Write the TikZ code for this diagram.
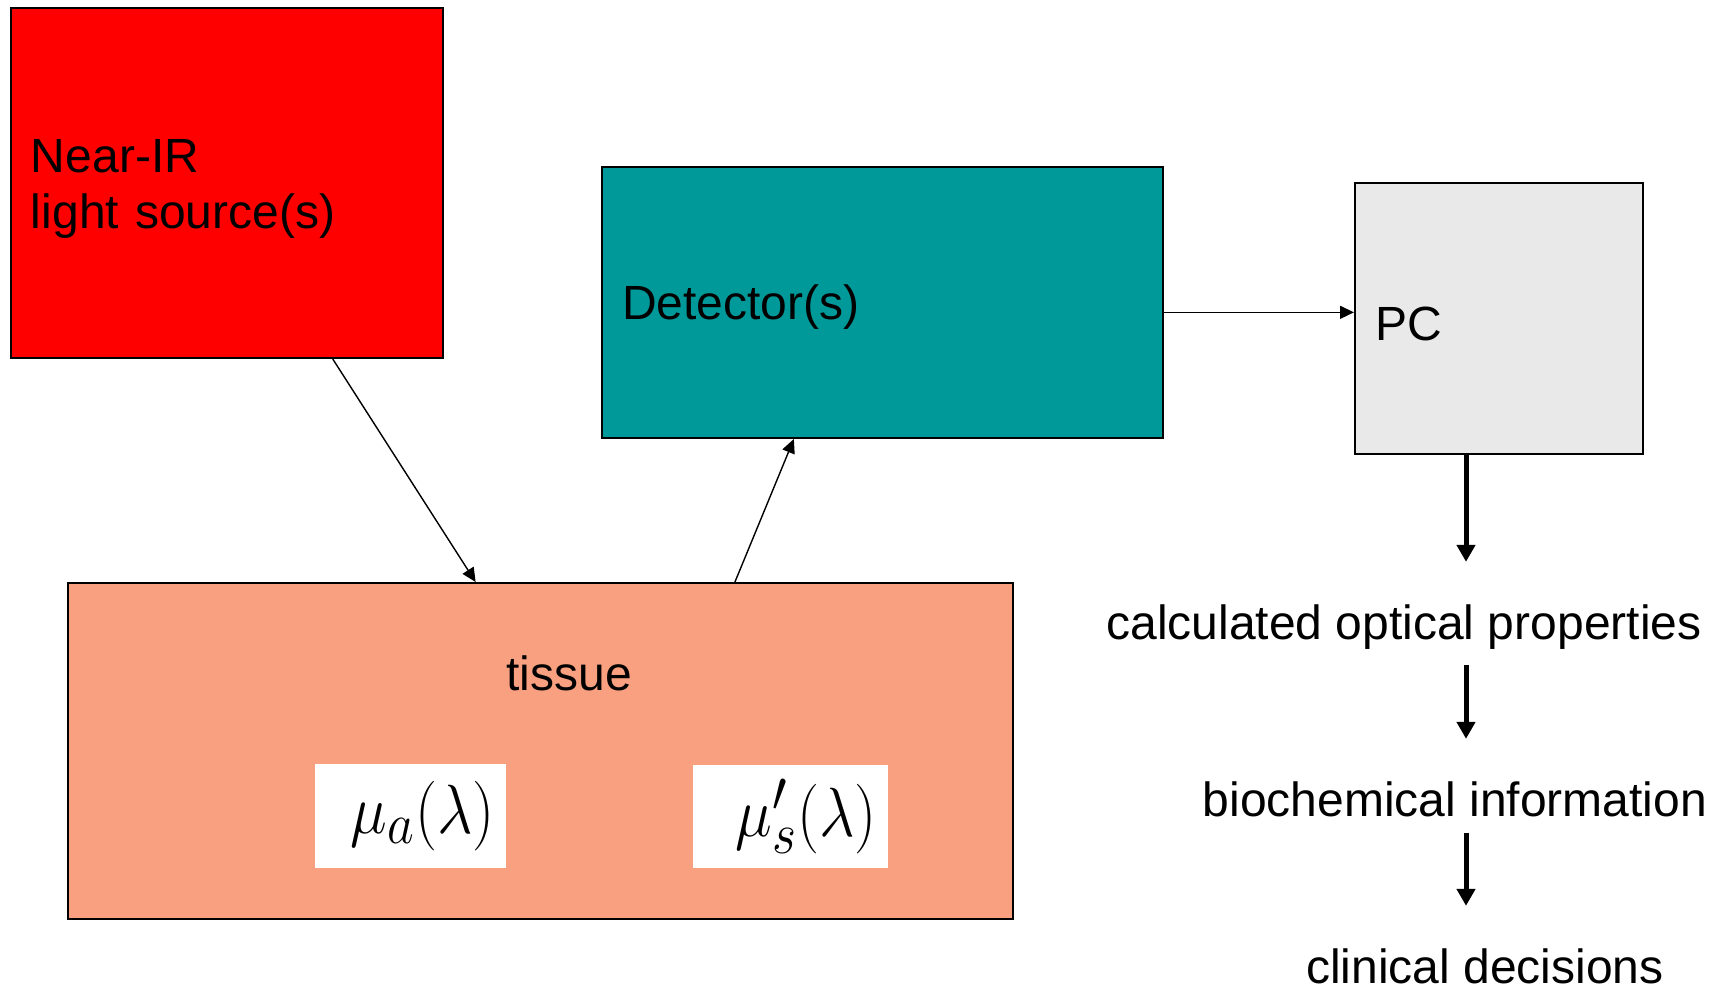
\documentclass[tikz,border=0pt]{standalone}
\usepackage{graphicx}
\usepackage[no-math]{fontspec}
\setmainfont{Liberation Sans}
\usetikzlibrary{arrows.meta}
\usetikzlibrary{positioning}
\definecolor{sourcered}{RGB}{255,0,0}
\definecolor{detteal}{RGB}{0,153,153}
\definecolor{pcgray}{RGB}{233,233,233}
\definecolor{tissuesalmon}{RGB}{248,160,128}
\newcommand{\coeff}[1]{\scalebox{1.25}[1.4]{\fontsize{24.88}{30}\selectfont$#1$}}
\tikzset {
  % thin connector with a solid head
  arr/.style = {
    draw = black,
    line width = 0.7pt,
    -{Triangle[length=7pt,width=6.5pt]}
  },
  % heavy connector in the processing chain
  flow/.style = {
    draw = black,
    line width = 2.5pt,
    shorten > = 21pt,
    -{Triangle[length=8.5pt,width=9pt]}
  }
}
\tikzset {
  box node/.style = {
    draw = black,
    line width = 1pt,
    rectangle,
    inner xsep = 10pt,
    inner ysep = 0pt,
    text height = 22pt,
    align = left,
    font = \fontsize{24}{28}\selectfont
  },
  % plain text of the chain and the tissue label
  caption/.style = {
    inner sep = 0pt,
    anchor = base,
    font = \fontsize{24}{28}\selectfont
  },
  % white patch holding an optical coefficient
  quantity/.style = {
    fill = white,
    inner xsep = 5.5pt,
    inner ysep = 0pt,
    align = right
  }
}
\begin{document}
\begin{tikzpicture}[x=0.5pt,y=-0.5pt]
    \useasboundingbox (0,0) rectangle (1727,987);
    \node[box node, fill=sourcered, text width=196pt, minimum height=175pt] (source) at (227,183) {Near-IR\\light source(s)};
    \node[box node, fill=detteal, text width=260.5pt, minimum height=135.5pt] (detector) at (882.5,302.5) {Detector(s)};
    \node[box node, fill=pcgray, text width=124pt, minimum height=135.5pt] (pc) at (1499,318.5) {PC};
    \node[box node, fill=tissuesalmon, minimum width=472.5pt, minimum height=168pt] (tissue) at (540.5,751) {};
    \node[caption] (tissue-label) at (569,690) {tissue};
    \node[quantity, text width=84.5pt, minimum height=52pt] (mu-a) at (410.5,816) {\coeff{\mu_a(\lambda)}};
    \node[quantity, text width=86.5pt, minimum height=51.5pt] (mu-s) at (790.5,816.5) {\coeff{\mu'_s(\lambda)}};

    \node[caption] (calc) at (1404,639) {calculated optical properties};
    \node[caption] (bio) at (1455,816) {biochemical information};
    \node[caption] (clinic) at (1485,983) {clinical decisions};
    \coordinate (chain) at (1466,0);

    \draw[arr] (source.-59.5) -- (tissue.111.5);
    \draw[arr] (tissue.41.7) -- (detector.-123.25);
    \draw[arr] (detector.-2.4) -- (detector.-2.4 -| pc.west);

    \draw[flow] (pc.south -| chain) -- (calc.north -| chain);
    \draw[flow, shorten < = 8pt] (calc.south -| chain) -- (bio.north -| chain);
    \draw[flow, shorten < = 8pt] (bio.south -| chain) -- (clinic.north -| chain);
\end{tikzpicture}
\end{document}
